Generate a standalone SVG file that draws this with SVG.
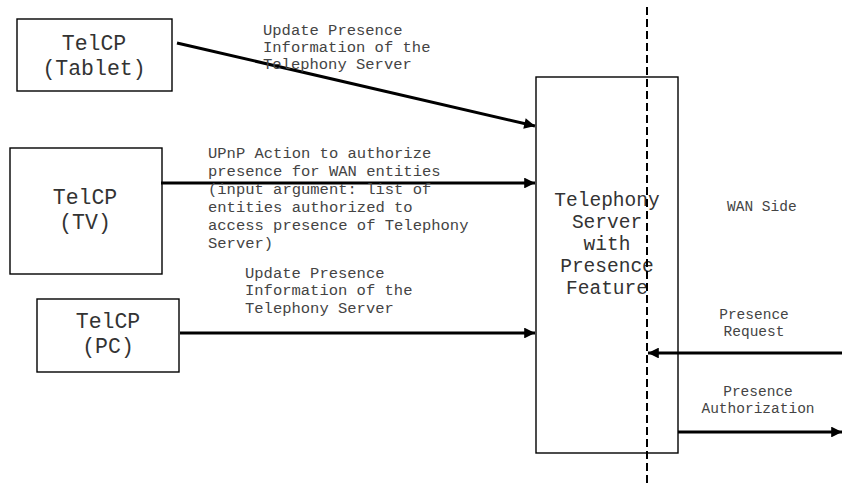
<svg xmlns="http://www.w3.org/2000/svg" width="842" height="486" viewBox="0 0 842 486">
<style>
.box{fill:#fff;stroke:#000;stroke-width:1.4}
.nt{font-family:"Liberation Mono","Courier New",monospace;font-size:21.5px;fill:#333;text-anchor:middle}
.st{font-family:"Liberation Mono","Courier New",monospace;font-size:19.5px;fill:#333;text-anchor:middle}
.lb{font-family:"Liberation Mono","Courier New",monospace;font-size:15.5px;fill:#444}
.ls{font-size:14.5px}
.lc{text-anchor:middle}
.ar{stroke:#000;stroke-width:3;fill:none;marker-end:url(#ah)}
</style>
<defs>
<marker id="ah" viewBox="0 0 10 10" refX="10" refY="5" markerWidth="4.5" markerHeight="3.6" orient="auto" markerUnits="strokeWidth">
<path d="M0,0 L10,5 L0,10 z" fill="#000"/>
</marker>
</defs>
<rect width="842" height="486" fill="#fff"/>
<g id="tablet">
<rect class="box" x="17" y="19" width="155" height="72"/>
<text class="nt" x="94" y="50">TelCP</text>
<text class="nt" x="94" y="75">(Tablet)</text>
</g>
<g id="tv">
<rect class="box" x="10" y="148" width="152" height="126"/>
<text class="nt" x="85" y="204">TelCP</text>
<text class="nt" x="85" y="229">(TV)</text>
</g>
<g id="pc">
<rect class="box" x="37" y="299" width="142" height="73"/>
<text class="nt" x="108" y="328">TelCP</text>
<text class="nt" x="108" y="353">(PC)</text>
</g>
<g id="server">
<rect class="box" x="536" y="77" width="142" height="376"/>
<text class="st" x="607" y="206">Telephony</text>
<text class="st" x="607" y="228">Server</text>
<text class="st" x="607" y="250">with</text>
<text class="st" x="607" y="272">Presence</text>
<text class="st" x="607" y="294">Feature</text>
</g>
<g id="wan">
<text class="lb ls" x="727" y="211">WAN Side</text>
</g>
<g id="connectors">
<line x1="647" y1="7" x2="647" y2="486" stroke="#000" stroke-width="2" stroke-dasharray="8,4"/>
<line class="ar" x1="177" y1="43" x2="535" y2="126"/>
<line class="ar" x1="161" y1="183" x2="535" y2="183"/>
<line class="ar" x1="180" y1="333" x2="535" y2="333"/>
<line class="ar" x1="842" y1="353" x2="648" y2="353"/>
<line class="ar" x1="678" y1="432" x2="842" y2="432"/>
</g>
<g id="labels">
<text class="lb" x="263" y="35">Update Presence</text>
<text class="lb" x="263" y="52">Information of the</text>
<text class="lb" x="263" y="69">Telephony Server</text>
<text class="lb" x="208" y="158">UPnP Action to authorize</text>
<text class="lb" x="208" y="176">presence for WAN entities</text>
<text class="lb" x="208" y="194">(input argument: list of</text>
<text class="lb" x="208" y="212">entities authorized to</text>
<text class="lb" x="208" y="230">access presence of Telephony</text>
<text class="lb" x="208" y="248">Server)</text>
<text class="lb" x="245" y="278">Update Presence</text>
<text class="lb" x="245" y="295">Information of the</text>
<text class="lb" x="245" y="313">Telephony Server</text>
<text class="lb ls lc" x="754" y="319">Presence</text>
<text class="lb ls lc" x="754" y="336">Request</text>
<text class="lb ls lc" x="758" y="396">Presence</text>
<text class="lb ls lc" x="758" y="413">Authorization</text>
</g>
</svg>
